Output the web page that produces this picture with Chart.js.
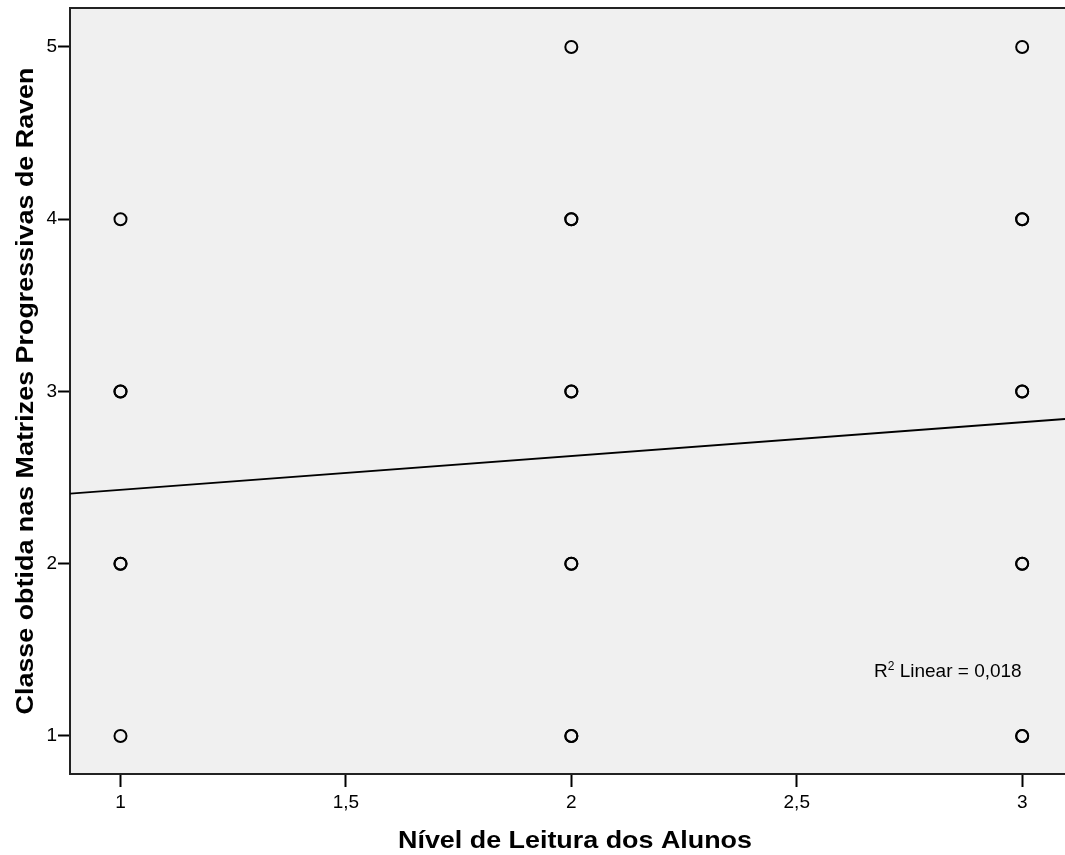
<!DOCTYPE html>
<html>
<head>
<meta charset="utf-8">
<script src="https://cdn.jsdelivr.net/npm/chart.js@4.4.1/dist/chart.umd.min.js"></script>
<style>
  html, body { margin: 0; padding: 0; background: #ffffff; }
  #wrap { width: 1065px; height: 855px; }
</style>
</head>
<body>
<div id="wrap"><canvas id="c" width="1065" height="855"></canvas></div>
<script>
// Reading level of each pupil (x) and Raven class obtained (y); repeated pairs overlap
const readingLevel = [1, 1, 1, 1, 1, 1,
                      2, 2, 2, 2, 2, 2, 2, 2, 2,
                      3, 3, 3, 3, 3, 3, 3, 3, 3];
const ravenClass   = [4, 3, 3, 2, 2, 1,
                      5, 4, 4, 3, 3, 2, 2, 1, 1,
                      5, 4, 4, 3, 3, 2, 2, 1, 1];

// Linear fit line, end points across the x range
const fitX = [0.888, 3.095];
const fitY = [2.407, 2.840];

// Axis ticks and ranges
const xTicks = [1, 1.5, 2, 2.5, 3];
const yTicks = [1, 2, 3, 4, 5];
const xRange = [0.888, 3.095];
const yRange = [0.779, 5.226];

const xTitle = 'Nível de Leitura dos Alunos';
const yTitle = 'Classe obtida nas Matrizes Progressivas de Raven';
const r2Value = '0,018';

const FONT = '"Liberation Sans", Arial, sans-serif';
const TITLE_SIZE = 24;
const TITLE_STRETCH = 1.12;

const points = readingLevel.map((x, i) => ({ x: x, y: ravenClass[i] }));
const fitPoints = fitX.map((x, i) => ({ x: x, y: fitY[i] }));

const fmt = v => String(v).replace('.', ',');

// Plot background, frame, axis titles and fit annotation
const decor = {
  id: 'decor',
  beforeDraw(chart) {
    const { ctx, chartArea: a } = chart;
    ctx.save();
    ctx.fillStyle = '#f0f0f0';
    ctx.fillRect(a.left, a.top, a.right - a.left, a.bottom - a.top);
    ctx.restore();
  },
  afterDraw(chart) {
    const { ctx, chartArea: a } = chart;
    ctx.save();
    ctx.strokeStyle = '#222';
    ctx.lineWidth = 2;
    ctx.beginPath();
    ctx.moveTo(a.left, a.top);
    ctx.lineTo(a.right, a.top);
    ctx.stroke();
    ctx.restore();

    // axis titles, bold and drawn a little wide
    ctx.save();
    ctx.fillStyle = '#000';
    ctx.font = 'bold ' + TITLE_SIZE + 'px ' + FONT;
    ctx.textAlign = 'center';
    ctx.textBaseline = 'alphabetic';
    ctx.translate(575, 848);
    ctx.scale(TITLE_STRETCH, 1);
    ctx.fillText(xTitle, 0, 0);
    ctx.restore();

    ctx.save();
    ctx.fillStyle = '#000';
    ctx.font = 'bold ' + TITLE_SIZE + 'px ' + FONT;
    ctx.textAlign = 'center';
    ctx.textBaseline = 'alphabetic';
    ctx.translate(33, (a.top + a.bottom) / 2);
    ctx.rotate(-Math.PI / 2);
    ctx.scale(TITLE_STRETCH, 1);
    ctx.fillText(yTitle, 0, 0);
    ctx.restore();

    ctx.save();
    ctx.fillStyle = '#000';
    ctx.textBaseline = 'alphabetic';
    ctx.textAlign = 'left';
    let x = 874, y = 677;
    ctx.font = '19px ' + FONT;
    ctx.fillText('R', x, y);
    x += ctx.measureText('R').width;
    ctx.font = '12px ' + FONT;
    ctx.fillText('2', x, y - 7);
    x += ctx.measureText('2').width;
    ctx.font = '19px ' + FONT;
    ctx.fillText(' Linear = ' + r2Value, x, y);
    ctx.restore();
  }
};

new Chart(document.getElementById('c'), {
  type: 'scatter',
  data: {
    datasets: [
      {
        type: 'line',
        data: fitPoints,
        borderColor: '#000',
        borderWidth: 1.8,
        pointRadius: 0,
        fill: false,
        order: 2
      },
      {
        data: points,
        pointStyle: 'circle',
        pointRadius: 6,
        pointBorderWidth: 2,
        pointBorderColor: '#000',
        pointBackgroundColor: 'rgba(0,0,0,0)',
        order: 1
      }
    ]
  },
  plugins: [decor],
  options: {
    responsive: false,
    animation: false,
    events: [],
    layout: { autoPadding: false, padding: { top: 8, right: 0, left: 0, bottom: 0 } },
    plugins: { legend: { display: false }, tooltip: { enabled: false } },
    scales: {
      x: {
        type: 'linear',
        min: xRange[0],
        max: xRange[1],
        afterBuildTicks: s => { s.ticks = xTicks.map(v => ({ value: v })); },
        afterFit: s => { s.height = 81; s.paddingLeft = 0; s.paddingRight = 0; },
        grid: { display: true, drawOnChartArea: false, drawTicks: true, tickLength: 13, tickWidth: 2, tickColor: '#000' },
        border: { display: true, color: '#222', width: 2 },
        ticks: {
          callback: v => fmt(v),
          color: '#000',
          padding: 4,
          maxRotation: 0,
          font: { family: FONT, size: 19 }
        }
      },
      y: {
        type: 'linear',
        min: yRange[0],
        max: yRange[1],
        afterBuildTicks: s => { s.ticks = yTicks.map(v => ({ value: v })); },
        afterFit: s => { s.width = 70; s.paddingTop = 0; s.paddingBottom = 0; },
        grid: { display: true, drawOnChartArea: false, drawTicks: true, tickLength: 12, tickWidth: 2, tickColor: '#000' },
        border: { display: true, color: '#222', width: 2 },
        ticks: {
          callback: v => fmt(v),
          color: '#000',
          padding: 1,
          font: { family: FONT, size: 19 }
        }
      }
    }
  }
});
</script>
</body>
</html>
